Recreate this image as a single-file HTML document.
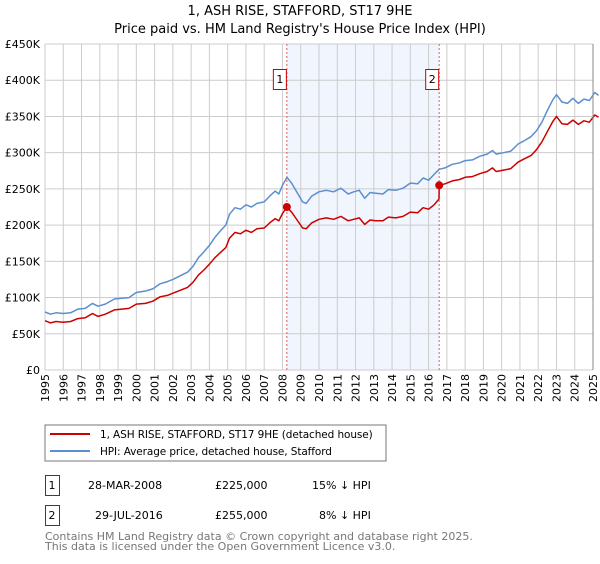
<!DOCTYPE html>
<html><head><meta charset="utf-8"><style>
body{margin:0;background:#fff;font-family:"DejaVu Sans","Liberation Sans",sans-serif;}
svg text{font-family:"DejaVu Sans","Liberation Sans",sans-serif;}
</style></head><body>
<svg id="c" width="600" height="560" xmlns="http://www.w3.org/2000/svg">
<text x="300" y="15" text-anchor="middle" font-size="13">1, ASH RISE, STAFFORD, ST17 9HE</text>
<text x="300" y="33" text-anchor="middle" font-size="13">Price paid vs. HM Land Registry's House Price Index (HPI)</text>
<g id="plot"></g>
<g>
<rect x="45" y="425" width="341" height="36" fill="#fff" stroke="#777"/>
<line x1="50" y1="434" x2="90" y2="434" stroke="#cc0000" stroke-width="2"/>
<text x="100" y="438" font-size="10.5" letter-spacing="-0.1">1, ASH RISE, STAFFORD, ST17 9HE (detached house)</text>
<line x1="50" y1="451" x2="90" y2="451" stroke="#5b8fd1" stroke-width="2"/>
<text x="100" y="455" font-size="10.5" letter-spacing="-0.1">HPI: Average price, detached house, Stafford</text>
</g>
<g font-size="11">
<rect x="45.5" y="475.5" width="14" height="20" fill="none" stroke="#cc0000"/>
<text x="52" y="489" text-anchor="middle">1</text>
<text x="88" y="489">28-MAR-2008</text>
<text x="215" y="489">£225,000</text>
<text x="312" y="489">15% ↓ HPI</text>
</g>
<g font-size="11">
<rect x="45.5" y="505.5" width="14" height="20" fill="none" stroke="#cc0000"/>
<text x="52" y="519" text-anchor="middle">2</text>
<text x="95" y="519">29-JUL-2016</text>
<text x="215" y="519">£255,000</text>
<text x="319" y="519">8% ↓ HPI</text>
</g>
<text x="45" y="540" font-size="11" fill="#777">Contains HM Land Registry data © Crown copyright and database right 2025.</text>
<text x="45" y="550" font-size="11" fill="#777">This data is licensed under the Open Government Licence v3.0.</text>
</svg>
<script>
const hpiDates=[1995.0,1995.3,1995.6,1996.0,1996.4,1996.8,1997.2,1997.6,1997.9,1998.3,1998.8,1999.2,1999.6,2000.0,2000.5,2000.9,2001.3,2001.7,2002.0,2002.4,2002.8,2003.1,2003.4,2003.7,2004.0,2004.3,2004.6,2004.9,2005.1,2005.4,2005.7,2006.0,2006.3,2006.6,2007.0,2007.3,2007.6,2007.8,2008.0,2008.24,2008.5,2008.8,2009.1,2009.3,2009.6,2010.0,2010.4,2010.8,2011.2,2011.6,2011.9,2012.2,2012.5,2012.8,2013.1,2013.5,2013.8,2014.2,2014.6,2015.0,2015.4,2015.7,2016.0,2016.3,2016.58,2016.9,2017.3,2017.7,2018.0,2018.4,2018.8,2019.2,2019.5,2019.7,2020.1,2020.5,2020.9,2021.2,2021.6,2021.9,2022.2,2022.5,2022.8,2023.0,2023.3,2023.6,2023.9,2024.2,2024.5,2024.8,2025.1,2025.3];
const hpiValues=[80,77,79,78,79,84,85,92,88,91,98,99,100,107,109,112,119,122,125,130,135,143,155,163,172,183,192,200,215,224,222,228,225,230,232,240,247,243,255,266,258,245,232,230,240,246,248,246,251,243,246,248,237,245,244,243,249,248,251,258,257,265,262,270,277,279,284,286,289,290,295,298,303,298,300,302,312,316,322,330,342,358,373,380,370,368,375,368,374,372,383,379];
const priceDates=[1995.0,1995.3,1995.6,1996.0,1996.4,1996.8,1997.2,1997.6,1997.9,1998.3,1998.8,1999.2,1999.6,2000.0,2000.5,2000.9,2001.3,2001.7,2002.0,2002.4,2002.8,2003.1,2003.4,2003.7,2004.0,2004.3,2004.6,2004.9,2005.1,2005.4,2005.7,2006.0,2006.3,2006.6,2007.0,2007.3,2007.6,2007.8,2008.0,2008.24,2008.5,2008.8,2009.1,2009.3,2009.6,2010.0,2010.4,2010.8,2011.2,2011.6,2011.9,2012.2,2012.5,2012.8,2013.1,2013.5,2013.8,2014.2,2014.6,2015.0,2015.4,2015.7,2016.0,2016.3,2016.57,2016.58,2016.9,2017.3,2017.7,2018.0,2018.4,2018.8,2019.2,2019.5,2019.7,2020.1,2020.5,2020.9,2021.2,2021.6,2021.9,2022.2,2022.5,2022.8,2023.0,2023.3,2023.6,2023.9,2024.2,2024.5,2024.8,2025.1,2025.3];
const priceValues=[68,65,67,66,67,71,72,78,74,77,83,84,85,91,92,95,101,103,106,110,114,121,131,138,146,155,162,169,182,190,188,193,190,195,196,203,209,206,216,225,218,207,196,195,203,208,210,208,212,206,208,210,201,207,206,206,211,210,212,218,217,224,222,228,236,255,257,261,263,266,267,271,274,279,274,276,278,287,291,296,304,315,329,343,350,340,339,345,339,344,342,352,349];
const saleDates=[2008.24,2016.58];
const saleValues=[225,255];
const saleLabels=["1","2"];
const yTicks=[0,50,100,150,200,250,300,350,400,450];
const yTickLabels=["£0","£50K","£100K","£150K","£200K","£250K","£300K","£350K","£400K","£450K"];
const xYears=[1995,1996,1997,1998,1999,2000,2001,2002,2003,2004,2005,2006,2007,2008,2009,2010,2011,2012,2013,2014,2015,2016,2017,2018,2019,2020,2021,2022,2023,2024,2025];

const NS="http://www.w3.org/2000/svg";
const L=45,R=593,T=44,B=370;
const xS=y=>L+(y-1995)/(2025-1995)*(R-L);
const yS=v=>B-v/450*(B-T);
const g=document.getElementById('plot');
function mk(t,a){const e=document.createElementNS(NS,t);for(const k in a)e.setAttribute(k,a[k]);g.appendChild(e);return e;}

const shade=mk('rect',{x:xS(saleDates[0]),y:T,width:xS(saleDates[1])-xS(saleDates[0]),height:B-T,fill:'#eef3fd',opacity:0.8});


xYears.forEach(yr=>{
  const l=mk('line',{x1:xS(yr),x2:xS(yr),y1:T,y2:B,stroke:'#cccccc','stroke-width':1});
  
  
  const t=mk('text',{transform:`translate(${xS(yr)+4},374) rotate(-90)`,'text-anchor':'end','font-size':11});
  t.textContent=yr;
  
  
});
yTicks.forEach((v,i)=>{
  const l=mk('line',{x1:L,x2:R,y1:yS(v),y2:yS(v),stroke:'#cccccc','stroke-width':1});
  
  
  const t=mk('text',{x:40,y:yS(v)+4,'text-anchor':'end','font-size':11});
  t.textContent=yTickLabels[i];
  
  
});
saleDates.forEach((d,i)=>{
  const l=mk('line',{x1:xS(d),x2:xS(d),y1:T,y2:B,stroke:'#e85a5a','stroke-width':1,'stroke-dasharray':'2,2'});
  
  
});
function path(ds,vs,col,name){
  const p=mk('path',{d:ds.map((d,i)=>(i?'L':'M')+xS(d).toFixed(1)+','+yS(vs[i]).toFixed(1)).join(''),fill:'none',stroke:col,'stroke-width':1.5,'stroke-linejoin':'round'});
  
  
}
path(hpiDates,hpiValues,'#5b8fd1','hpi-line');
path(priceDates,priceValues,'#cc0000','price-line');
saleDates.forEach((d,i)=>{
  const c=mk('circle',{cx:xS(d),cy:yS(saleValues[i]),r:4,fill:'#cc0000'});
  
  
  const bx=mk('rect',{x:xS(d)-13.5,y:69.5,width:13,height:20,fill:'#fff',stroke:'#cc0000'});
  
  
  const t=mk('text',{x:xS(d)-7,y:83,'text-anchor':'middle','font-size':11});
  t.textContent=saleLabels[i];
  
  
});
const ax=mk('line',{x1:R,x2:R,y1:T,y2:B,stroke:'#888','stroke-width':1});


</script>
</body></html>
